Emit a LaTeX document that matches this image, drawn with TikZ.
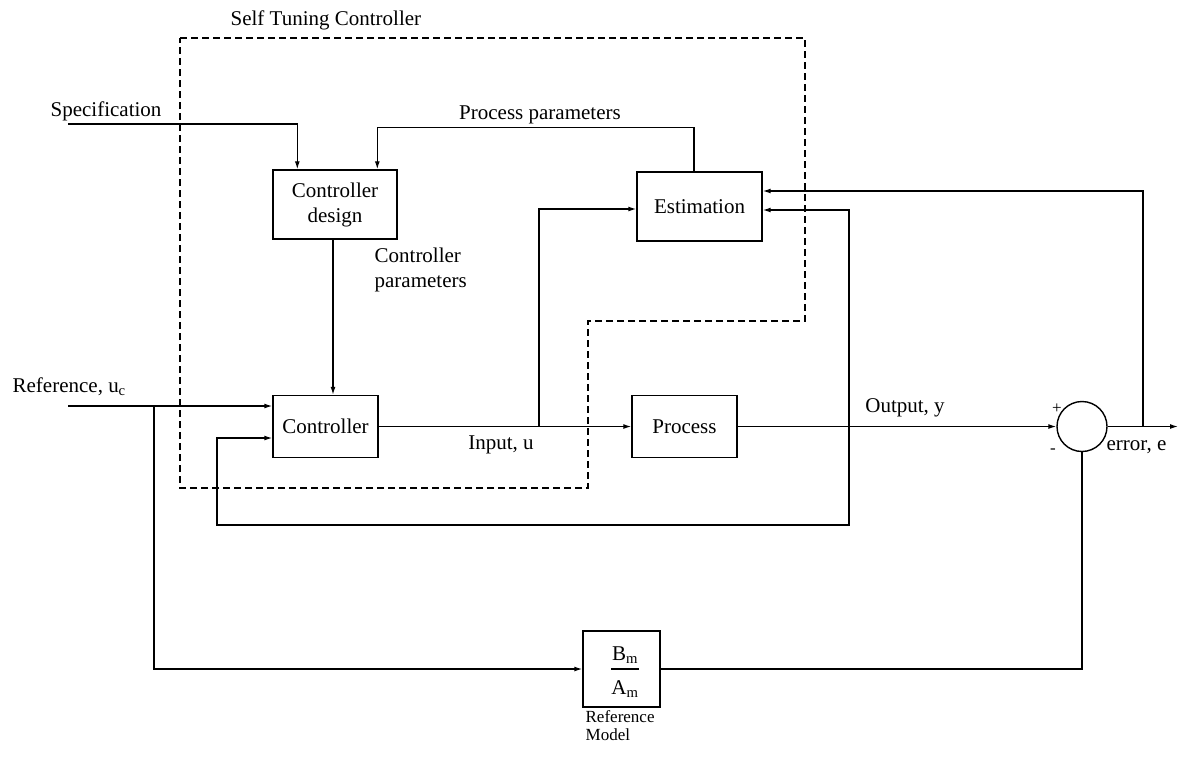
\documentclass[tikz,border=0pt]{standalone}
\usepackage{fontspec}
\setmainfont{Liberation Serif}
\usetikzlibrary{arrows.meta,calc}
\begin{document}
\begin{tikzpicture}[x=1pt,y=-1pt,
  line width=1.3pt,
  every node/.style={font=\fontsize{21}{25}\selectfont, inner sep=0pt},
  blk/.style={draw, line width=1.4pt, align=center},
  arr/.style={-{Latex[length=8pt,width=5pt]}},
  dsh/.style={dash pattern=on 7pt off 4pt, line width=1.3pt},
  small/.style={font=\fontsize{17}{18}\selectfont, align=left}]
\useasboundingbox (0,0) rectangle (1180,761);

% blocks
\node[blk, minimum width=124pt, minimum height=69pt] (cd) at (335,204.5) {Controller\\design};
\node[blk, minimum width=125pt, minimum height=69pt] (est) at (699.5,206.5) {Estimation};
\node[blk, minimum width=105pt, minimum height=62pt] (ctrl) at (325.5,426.5) {Controller};
\node[blk, minimum width=105pt, minimum height=62pt] (proc) at (684.5,426.5) {Process};
\node[blk, minimum width=77pt, minimum height=76pt] (rm) at (621.5,669) {};
\node[draw, circle, minimum size=50pt, line width=1.4pt] (sum) at (1082,426.5) {};

% fraction in reference model
\node (bm) at (625,655) {B\textsubscript{m}};
\node (am) at (625,689) {A\textsubscript{m}};
\draw (bm.south west |- 0,669) coordinate (fl) -- (bm.south east |- 0,669) coordinate (fr);

% dashed self tuning boundary
\draw[dsh] (180,38) -- (805,38) -- (805,321) -- (588,321) -- (588,488) -- (180,488) -- cycle;

% connectors
\coordinate (spec) at (68,124);
\draw[arr] (spec) -| ([xshift=25pt]cd.north west);
\draw[arr] ([xshift=-5.5pt]est.north) -- ++(0,-44) -| ([xshift=105pt]cd.north west);
\draw[arr] ([xshift=-2pt]cd.south) -- ([xshift=7.5pt]ctrl.north);

\coordinate (ref) at (68,406);
\coordinate (rb) at (154,406);
\draw[arr] (ref) -- (ctrl.west |- ref);
\draw[arr] (rb) |- (rm.west);
\draw[arr] (ctrl.east) -- (proc.west);
\coordinate (ub) at (539,426.5);
\draw[arr] (ub) |- ([yshift=-2.5pt]est.west);
\draw[arr] (proc.east) -- (sum.west);
\coordinate (eout) at (1178,426.5);
\draw[arr] (sum.east) -- (eout);
\coordinate (eb) at (1143,426.5);
\draw[arr] (eb) |- ([yshift=15.5pt]est.east);
\coordinate (yb) at (849,426.5);
\draw[arr] (yb) |- ([yshift=-3.5pt]est.east);
\draw[arr] (yb) |- (217,525) |- ([yshift=-11.5pt]ctrl.west);
\draw (rm.east) -| (sum.south);

% labels
\node[anchor=west] (stc) at (230,20) {Self Tuning Controller};
\node[anchor=west] (spl) at (50,111) {Specification};
\node (ppl) at (540,115) {Process parameters};
\node[anchor=west, align=left] (cpl) at (374,270) {Controller\\parameters};
\node[anchor=west] (refl) at (12,387) {Reference, u\textsubscript{c}};
\node (inl) at (501,445) {Input, u};
\node (outl) at (905,408) {Output, y};
\node[font=\fontsize{17}{17}\selectfont] (plus) at (1057,409) {+};
\node[font=\fontsize{17}{17}\selectfont] (minus) at (1053,451) {-};
\node[anchor=west] (errl) at (1106,447) {error, e};
\node[anchor=north west, small] (rml) at (585,710) {Reference\\Model};
\end{tikzpicture}
\end{document}
